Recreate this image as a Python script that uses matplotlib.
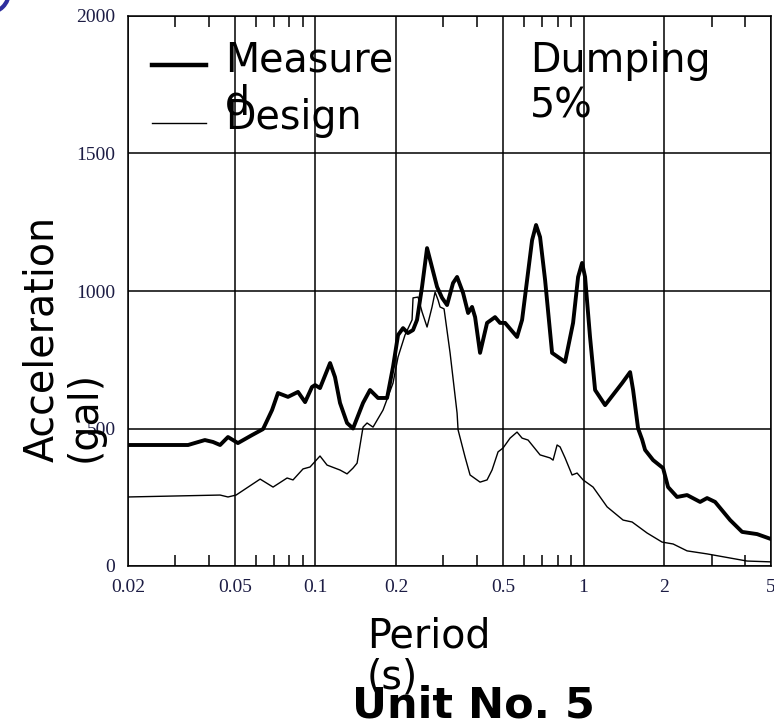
import matplotlib
matplotlib.use('Agg')
import matplotlib.pyplot as plt
from matplotlib.ticker import FixedLocator, NullFormatter, NullLocator
from matplotlib.lines import Line2D
from matplotlib.patches import Circle

# 周期 (s) と 加速度 (gal) - 観測値
measured_period = [0.02, 0.0335, 0.0387, 0.0415, 0.0441, 0.0472, 0.0514, 0.058, 0.0638,
                   0.0689, 0.0725, 0.079, 0.0861, 0.0915, 0.0971, 0.0997, 0.104, 0.1134,
                   0.1183, 0.1235, 0.1312, 0.1381, 0.1505, 0.1598, 0.1712, 0.185, 0.1947,
                   0.2033, 0.2122, 0.2212, 0.2312, 0.2393, 0.2498, 0.2608, 0.2842, 0.2967,
                   0.3097, 0.326, 0.3375, 0.3553, 0.371, 0.3838, 0.394, 0.4111, 0.4366,
                   0.4676, 0.488, 0.5096, 0.5648, 0.5898, 0.6157, 0.6427, 0.665, 0.6883,
                   0.7186, 0.763, 0.8532, 0.9138, 0.954, 0.9873, 1.013, 1.057, 1.104,
                   1.203, 1.392, 1.491, 1.53, 1.597, 1.653, 1.696, 1.817, 1.979, 2.066,
                   2.232, 2.432, 2.72, 2.888, 3.094, 3.52, 3.902, 4.438, 5.0]
measured_acc = [440, 440, 458, 451, 440, 469, 447, 476, 498,
                567, 629, 615, 633, 596, 651, 658, 647, 738,
                687, 593, 520, 500, 593, 640, 611, 611, 724,
                840, 865, 847, 858, 895, 1015, 1156, 1015, 975,
                949, 1029, 1051, 993, 920, 942, 905, 775, 884,
                905, 884, 884, 833, 895, 1040, 1185, 1240, 1196,
                1040, 775, 742, 884, 1051, 1102, 1051, 833, 640,
                585, 665, 705, 640, 500, 460, 422, 385, 356, 287,
                251, 258, 233, 247, 233, 167, 124, 116, 98]

# 設計値
design_period = [0.02, 0.0441, 0.0472, 0.0506, 0.0622, 0.0695, 0.0784, 0.0825, 0.0899,
                 0.0955, 0.104, 0.1105, 0.1235, 0.1312, 0.1381, 0.143, 0.1505, 0.1558,
                 0.164, 0.1787, 0.1947, 0.2033, 0.2158, 0.2293, 0.2312, 0.2414, 0.2498,
                 0.2608, 0.2722, 0.2794, 0.2867, 0.2916, 0.3018, 0.3178, 0.3375, 0.3404,
                 0.3615, 0.3773, 0.4111, 0.4366, 0.4557, 0.4798, 0.5008, 0.532, 0.5648,
                 0.5898, 0.6209, 0.6883, 0.75, 0.7696, 0.7966, 0.8174, 0.8532, 0.906,
                 0.9458, 0.9958, 1.085, 1.224, 1.404, 1.517, 1.725, 1.962, 2.158, 2.432,
                 2.888, 3.52, 4.072, 5.0]
design_acc = [251, 258, 251, 258, 316, 287, 320, 313, 353,
              360, 400, 367, 349, 335, 356, 374, 505, 520,
              505, 567, 665, 760, 840, 895, 975, 978, 924,
              869, 942, 996, 967, 942, 935, 775, 556, 495,
              396, 331, 305, 313, 349, 415, 429, 465, 487,
              465, 458, 404, 393, 385, 440, 433, 393, 331,
              338, 313, 287, 215, 167, 160, 120, 87, 80, 55,
              44, 29, 18, 15]

x_ticks = [0.02, 0.05, 0.1, 0.2, 0.5, 1, 2, 5]
x_tick_labels = ['0.02', '0.05', '0.1', '0.2', '0.5', '1', '2', '5']
x_minor = [0.03, 0.04, 0.06, 0.07, 0.08, 0.09, 0.3, 0.4, 0.6, 0.7, 0.8, 0.9, 3, 4]
y_ticks = [0, 500, 1000, 1500, 2000]

W, H = 774, 728


def fx(px):
    return px / W


def fy(py):
    return 1 - py / H


fig = plt.figure(figsize=(W / 100, H / 100), dpi=100)
ax = fig.add_axes([fx(128), fy(566), (771 - 128) / W, (566 - 16) / H])

ax.plot(measured_period, measured_acc, color='k', lw=2.8, solid_joinstyle='round')
ax.plot(design_period, design_acc, color='k', lw=1.0)

ax.set_xscale('log')
ax.set_xlim(0.02, 5)
ax.set_ylim(0, 2000)
ax.set_xticks(x_ticks)
ax.set_xticklabels(x_tick_labels)
ax.xaxis.set_minor_locator(FixedLocator(x_minor))
ax.xaxis.set_minor_formatter(NullFormatter())
ax.set_yticks(y_ticks)
ax.yaxis.set_minor_locator(NullLocator())
ax.tick_params(which='major', length=0, pad=9, labelsize=14, labelcolor='#1c1c44')
ax.tick_params(which='minor', direction='in', length=8, width=1.1, top=True, bottom=True)
for lbl in ax.get_xticklabels() + ax.get_yticklabels():
    lbl.set_fontfamily('Liberation Serif')
ax.grid(True, which='major', color='k', lw=1.1)
for sp in ax.spines.values():
    sp.set_linewidth(1.1)

# 凡例 (手描き)
fig.add_artist(Line2D([fx(152), fx(206)], [fy(65), fy(65)], transform=fig.transFigure,
                      color='k', lw=3.2))
fig.add_artist(Line2D([fx(152), fx(206)], [fy(123), fy(123)], transform=fig.transFigure,
                      color='k', lw=1.0))
fs = 28.5
fig.text(fx(225), fy(41), 'Measure\nd', fontsize=fs, ha='left', va='top', linespacing=1.07)
fig.text(fx(225), fy(98), 'Design', fontsize=fs, ha='left', va='top')
fig.text(fx(530), fy(41), 'Dumping\n5%', fontsize=fs, ha='left', va='top', linespacing=1.17)

fig.text(fx(22), fy(462), 'Acceleration\n(gal)', fontsize=fs, rotation=90,
         rotation_mode='anchor', ha='left', va='top', multialignment='left', linespacing=1.07)
fig.text(fx(367), fy(617), 'Period\n(s)', fontsize=fs, ha='left', va='top',
         multialignment='left', linespacing=1.02)
fig.text(fx(352), fy(717), 'Unit No. 5', fontsize=31, fontweight='bold', ha='left',
         va='baseline')

# 左上の青い円弧
fig.add_artist(Circle((-0.12, 7.36), 0.21, transform=fig.dpi_scale_trans, fill=False,
                      edgecolor='#2e2e9e', lw=3))

fig.savefig('out.png', dpi=100)
